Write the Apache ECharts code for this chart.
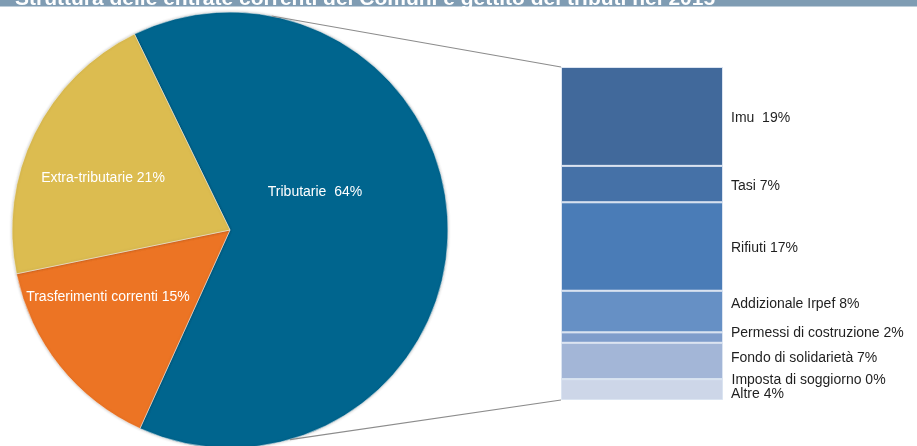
<!DOCTYPE html>
<html>
<head>
<meta charset="utf-8">
<script src="https://cdn.jsdelivr.net/npm/echarts@6/dist/echarts.min.js"></script>
<style>
  html, body { margin: 0; padding: 0; background: #ffffff; }
  #chart { width: 917px; height: 446px; }
</style>
</head>
<body>
<div id="chart"></div>
<script>
// Entrate correnti dei Comuni (quote %)
const pieNames = ['Tributarie', 'Trasferimenti correnti', 'Extra-tributarie'];
const pieValues = [64, 15, 21];
const pieLabels = ['Tributarie  64%', 'Trasferimenti correnti 15%', 'Extra-tributarie 21%'];
const pieColors = ['#00658e', '#ec7424', '#dcbc50'];

// Gettito dei tributi (quote % sul totale delle entrate)
const taxNames = ['Imu', 'Tasi', 'Rifiuti', 'Addizionale Irpef', 'Permessi di costruzione',
                  'Fondo di solidarietà', 'Imposta di soggiorno', 'Altre'];
const taxValues = [19, 7, 17, 8, 2, 7, 0, 4];
const taxLabels = ['Imu  19%', 'Tasi 7%', 'Rifiuti 17%', 'Addizionale Irpef 8%', 'Permessi di costruzione 2%',
                   'Fondo di solidarietà 7%', 'Imposta di soggiorno 0%', 'Altre 4%'];
const taxColors = ['#41699b', '#4571a7', '#4a7cb7', '#6690c5', '#7f9dcb', '#a3b6d7', '#c0cce2', '#cdd6e8'];

const titleText = 'Struttura delle entrate correnti dei Comuni e gettito dei tributi nel 2015';

// label placement: pie labels relative to the pie centre, bar labels as vertical nudges
const pieLabelAt = [[85, -38], [-122, 67], [-127, -52]];
const taxLabelShift = [2, 2, 2, -7, -4, -3, 1, 5];

const totalTax = taxValues.reduce((a, b) => a + b, 0);

const chart = echarts.init(document.getElementById('chart'), null, { renderer: 'canvas' });

const pieCenter = [230, 230];
const pieRadius = 218;
const labelFont = 'Liberation Sans, Arial, sans-serif';

const barSeries = taxNames.map((name, i) => ({
  name: name,
  type: 'bar',
  stack: 'tributi',
  barWidth: '100%',
  data: [taxValues[i]],
  itemStyle: { color: taxColors[i], borderColor: '#dbe4f1', borderWidth: 1 },
  label: {
    show: true,
    position: 'right',
    distance: 8,
    offset: [0, taxLabelShift[i]],
    formatter: taxLabels[i],
    color: '#1f1f1f',
    fontSize: 14,
    fontFamily: labelFont
  },
  emphasis: { disabled: true },
  silent: true
}));

chart.setOption({
  animation: false,
  backgroundColor: '#ffffff',
  grid: { left: 561, right: 194, top: 67, bottom: 46 },
  xAxis: { type: 'category', data: ['Tributi'], show: false },
  yAxis: { type: 'value', min: 0, max: totalTax, inverse: true, show: false },
  series: [
    {
      type: 'pie',
      center: pieCenter,
      radius: pieRadius,
      startAngle: 116,
      clockwise: true,
      silent: true,
      data: pieNames.map((n, i) => ({ name: n, value: pieValues[i], itemStyle: { color: pieColors[i] } })),
      itemStyle: { borderColor: 'rgba(255,255,255,0.6)', borderWidth: 0.8, shadowBlur: 3, shadowColor: 'rgba(0,0,0,0.25)' },
      label: {
        show: true,
        position: 'inside',
        formatter: p => pieLabels[p.dataIndex],
        color: '#ffffff',
        fontSize: 14,
        fontFamily: labelFont
      },
      labelLine: { show: false },
      labelLayout: p => ({
        x: pieCenter[0] + pieLabelAt[p.dataIndex][0],
        y: pieCenter[1] + pieLabelAt[p.dataIndex][1],
        align: 'center',
        verticalAlign: 'middle'
      })
    },
    ...barSeries
  ]
});

// connector lines from the pie to the stacked bar
const grid = chart.getModel().getComponent('grid', 0).coordinateSystem.getRect();
const barTop = [grid.x, chart.convertToPixel({ yAxisIndex: 0 }, 0)];
const barBottom = [grid.x, chart.convertToPixel({ yAxisIndex: 0 }, totalTax)];
function onCircle(degFromNorth) {
  const a = degFromNorth * Math.PI / 180;
  return [pieCenter[0] + pieRadius * Math.sin(a), pieCenter[1] - pieRadius * Math.cos(a)];
}
const pTop = onCircle(11);
const pBottom = onCircle(164);

chart.setOption({
  graphic: [
    { type: 'rect', shape: { x: 0, y: 0, width: 917, height: 6.5 }, style: { fill: '#7f9cb3' }, z: 10 },
    {
      type: 'text', x: 15, y: 9.5, z: 11,
      style: { text: titleText, fill: '#ffffff', font: 'bold 21px "Liberation Sans", Arial, sans-serif',
               verticalAlign: 'bottom' }
    },
    { type: 'line', shape: { x1: pTop[0], y1: pTop[1], x2: barTop[0], y2: barTop[1] },
      style: { stroke: '#8c8c8c', lineWidth: 1.2 }, z: 5 },
    { type: 'line', shape: { x1: pBottom[0], y1: pBottom[1], x2: barBottom[0], y2: barBottom[1] },
      style: { stroke: '#8c8c8c', lineWidth: 1.2 }, z: 5 }
  ]
});
</script>
</body>
</html>
